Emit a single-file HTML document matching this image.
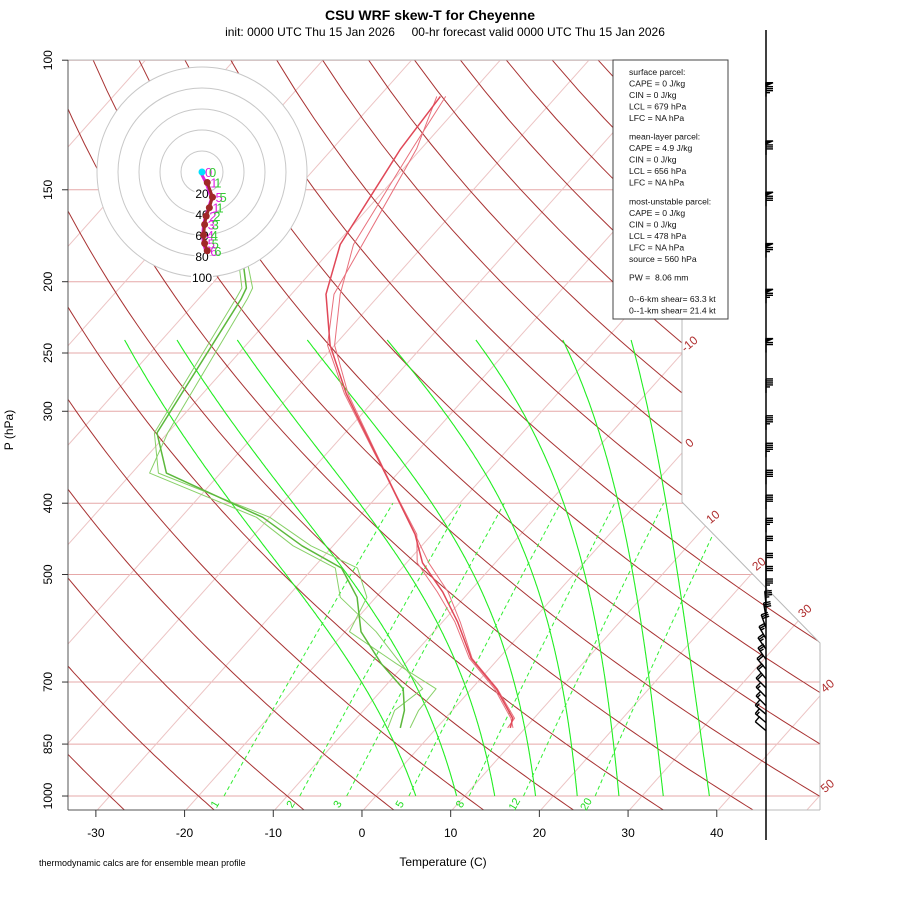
<!DOCTYPE html>
<html><head><meta charset="utf-8"><style>
html,body{margin:0;padding:0;background:#fff;}
svg{display:block;font-family:"Liberation Sans",sans-serif;}
</style></head><body>
<svg id="chart" width="900" height="900" viewBox="0 0 900 900" xmlns="http://www.w3.org/2000/svg">
<defs><clipPath id="plotclip"><polygon points="68,60 682,60 682,502 820,643 820,810 68,810"/></clipPath></defs>
<rect width="900" height="900" fill="#fff"/>
<text x="430" y="20" text-anchor="middle" font-size="14" font-weight="bold">CSU WRF skew-T for Cheyenne</text>
<text x="445" y="36" text-anchor="middle" font-size="12" xml:space="preserve" style="white-space:pre">init: 0000 UTC Thu 15 Jan 2026     00-hr forecast valid 0000 UTC Thu 15 Jan 2026</text>
<g id="bg" clip-path="url(#plotclip)"></g>
<g id="profiles" clip-path="url(#plotclip)"></g>
<polyline points="68,60 682,60 682,502 820,643 820,810" fill="none" stroke="#b8b8b8" stroke-width="1"/>
<line x1="68" y1="60" x2="68" y2="810" stroke="#555" stroke-width="1"/>
<line x1="68" y1="810" x2="717" y2="810" stroke="#555" stroke-width="1"/>
<line x1="717" y1="810" x2="820" y2="810" stroke="#bbb" stroke-width="1"/>
<g id="axes"></g>
<text transform="translate(13,430) rotate(-90)" text-anchor="middle" font-size="12">P (hPa)</text>
<text x="443" y="866" text-anchor="middle" font-size="12">Temperature (C)</text>
<text x="39" y="866" font-size="9">thermodynamic calcs are for ensemble mean profile</text>
<g id="hodo"></g>
<g>
<rect x="613" y="60" width="115" height="259" fill="#fff" stroke="#444" stroke-width="1"/>
<g font-size="8.6" fill="#111">
<text x="629" y="75">surface parcel:</text>
<text x="629" y="86.5">CAPE = 0 J/kg</text>
<text x="629" y="98">CIN = 0 J/kg</text>
<text x="629" y="109.5">LCL = 679 hPa</text>
<text x="629" y="121">LFC = NA hPa</text>
<text x="629" y="139.5">mean-layer parcel:</text>
<text x="629" y="151">CAPE = 4.9 J/kg</text>
<text x="629" y="162.5">CIN = 0 J/kg</text>
<text x="629" y="174">LCL = 656 hPa</text>
<text x="629" y="185.5">LFC = NA hPa</text>
<text x="629" y="204.5">most-unstable parcel:</text>
<text x="629" y="216">CAPE = 0 J/kg</text>
<text x="629" y="227.5">CIN = 0 J/kg</text>
<text x="629" y="239">LCL = 478 hPa</text>
<text x="629" y="250.5">LFC = NA hPa</text>
<text x="629" y="262">source = 560 hPa</text>
<text x="629" y="280.5" xml:space="preserve" style="white-space:pre">PW =  8.06 mm</text>
<text x="629" y="302">0--6-km shear= 63.3 kt</text>
<text x="629" y="313.5">0--1-km shear= 21.4 kt</text>
</g></g>
<line x1="766" y1="30" x2="766" y2="840" stroke="#000" stroke-width="1.5"/>
<g id="barbs"></g>
</svg>
<script>
// ---- data ----
const pressureTicks = [100,150,200,250,300,400,500,700,850,1000];
const tempTicks = [-30,-20,-10,0,10,20,30,40];
const isothermLabels = [-10,0,10,20,30,40,50];
const mixRatios = [1,2,3,5,8,12,20];
const moistStartT = [4.5,9.1,13.4,18.0,22.7,27.4,32.4,37.6];
const moistTopT = [-74.2,-68.3,-61.5,-53.6,-44.6,-34.6,-24.8,-17.1];
const dryThetas = [-40,-30,-20,-10,0,10,20,30,40,50,60,70,80,90,100,110,120,130,140,150,160,170,180,190,200];
const profP = [112,132,178,208,244,284,341,441,482,528,580,650,715,784,808];
const tempMean = [-63.1,-62.3,-59.5,-56.1,-50.5,-43.8,-34.7,-21.9,-18.2,-13.0,-8.3,-3.1,2.8,7.6,8.3];
const tempMemA = [-62.5,-61.0,-58.0,-54.5,-50.0,-43.6,-34.6,-21.9,-17.5,-12.4,-8.0,-3.0,2.9,7.8,8.0];
const tempMemB = [-63.5,-60.5,-57.0,-55.2,-50.8,-44.0,-34.8,-21.7,-18.8,-13.6,-8.6,-3.3,2.6,7.4,8.6];
const dewP = [189,204,211,321,364,418,457,490,537,598,661,715,765,808];
const dewMean = [-68.5,-65.7,-65.2,-61.2,-56.1,-40.8,-33.5,-26.8,-22.1,-18.2,-12.7,-7.7,-5.4,-4.1];
const dewMemA = [-68.0,-65.0,-64.5,-60.0,-58.0,-41.5,-34.5,-27.5,-24.0,-16.5,-10.5,-5.5,-6.5,-5.5];
const dewMemB = [-69.0,-66.2,-65.8,-61.5,-57.0,-40.0,-32.5,-25.0,-21.0,-19.5,-11.0,-4.0,-3.8,-3.0];
const hodoU = [0,10,20,14,8,5,3,5,10];
const hodoV = [0,-10,-24,-34,-42,-50,-60,-68,-75];
const hodoLbl = ["0","1","5","1","2","3","4","5","6"];
const barbP = [110,132,155,182,210,245,278,312,340,370,400,430,455,480,500,520,540,560,580,600,620,640,660,680,700,720,740,760,780,800];
const barbSpd = [85,80,80,75,75,70,45,45,45,40,40,35,30,30,30,35,35,30,30,25,25,25,20,20,20,15,15,15,15,10];
const barbDir = [0,0,0,0,0,0,0,0,0,0,0,0,0,0,0,0,5,10,20,30,35,35,40,40,45,45,45,50,50,50];

// ---- axis functions ----
const NS="http://www.w3.org/2000/svg";
function yv(p){return 132.182-44.061*Math.log10(p);}
function py(p){return 796-16.70*yv(p);}
function px(T,p){return 375.9+8.87*T+14.90*yv(p);}
function mk(tag,attrs,parent){const e=document.createElementNS(NS,tag);for(const k in attrs)e.setAttribute(k,attrs[k]);parent.appendChild(e);return e;}
function pts(arr){return arr.map(a=>a[0].toFixed(1)+","+a[1].toFixed(1)).join(" ");}
const bg=document.getElementById('bg'),prof=document.getElementById('profiles'),axes=document.getElementById('axes');

pressureTicks.forEach(p=>{
  const l=mk('line',{x1:68,x2:820,y1:py(p),y2:py(p),stroke:'#e6a8a8','stroke-width':1},bg);
  
  
});
for(let T=-140;T<=60;T+=10){
  const l=mk('line',{x1:px(T,1050),y1:py(1050),x2:px(T,100),y2:py(100),stroke:'#ecc4c4','stroke-width':1},bg);
  
  
}
dryThetas.forEach(th=>{
  const a=[];for(let p=1050;p>=100;p-=10){const T=(th+273.15)*Math.pow(p/1000,0.286)-273.15;a.push([px(T,p),py(p)]);}
  const l=mk('polyline',{points:pts(a),fill:'none',stroke:'#a83232','stroke-width':1},bg);
  
  
});
function es(Tc){return 6.112*Math.exp(17.67*Tc/(Tc+243.5));}
moistStartT.forEach((T0,i)=>{
  let T=T0+273.15,p=1000;const raw=[[1000,T0]];
  while(p>240){const Tc=T-273.15;const e=es(Tc);const rs=0.622*e/(p-e);
    const dTdp=(287*T+2.5e6*rs)/(p*(1005+2.5e6*2.5e6*rs*0.622/(287*T*T)));
    T-=dTdp*2;p-=2;raw.push([p,T-273.15]);}
  const corr=moistTopT[i]-raw[raw.length-1][1];
  const a=raw.map(r=>{const f=Math.log(1000/r[0])/Math.log(1000/240);return [px(r[1]+corr*f,r[0]),py(r[0])];});
  const l=mk('polyline',{points:pts(a),fill:'none',stroke:'#22ee22','stroke-width':1.1},bg);
  
  
});
mixRatios.forEach(w=>{
  const a=[];for(let p=1000;p>=400;p-=10){const e=w/1000*p/(0.622+w/1000);const lg=Math.log(e/6.112);const Td=243.5*lg/(17.67-lg);a.push([px(Td,p),py(p)]);}
  const l=mk('polyline',{points:pts(a),fill:'none',stroke:'#33ee33','stroke-width':1,'stroke-dasharray':'4,3'},bg);
  
  
  const t=mk('text',{x:0,y:0,'font-size':11,fill:'#22dd22','text-anchor':'middle',transform:'translate('+(a[0][0]-6).toFixed(1)+',806) rotate(-60)'},axes);
  t.textContent=w;
  
  
});
isothermLabels.forEach(T=>{
  let X,Y;
  for(let y=810;y>=60;y-=1){const x=375.9+8.87*T+14.90*(796-y)/16.70;
    let xr = y>=643?820:(y>=502?682+(y-502)*138/141:682);
    if(x>=xr){X=xr;Y=y;break;}}
  const t=mk('text',{x:0,y:0,'font-size':12,fill:'#b03030','text-anchor':'middle',transform:'translate('+(X+10)+','+(Y-6)+') rotate(-40)'},axes);
  t.textContent=T;
  
  
});
pressureTicks.forEach(p=>{
  mk('line',{x1:62,x2:68,y1:py(p),y2:py(p),stroke:'#333'},axes);
  const t=mk('text',{transform:'translate(52,'+py(p).toFixed(1)+') rotate(-90)','text-anchor':'middle','font-size':12},axes);
  t.textContent=p;
  
  
});
tempTicks.forEach(T=>{
  const x=px(T,1050);
  mk('line',{x1:x,x2:x,y1:810,y2:817,stroke:'#333'},axes);
  const t=mk('text',{x:x,y:837,'text-anchor':'middle','font-size':12},axes);
  t.textContent=T;
  
  
});
function line(P,Tv,col,w,name){
  const a=P.map((p,i)=>[px(Tv[i],p),py(p)]);
  const l=mk('polyline',{points:pts(a),fill:'none',stroke:col,'stroke-width':w,'stroke-linejoin':'round'},prof);
  
  
}
line(profP,tempMemA,'#e8707c',1,'temperature-member');
line(profP,tempMemB,'#e8707c',1,'temperature-member');
line(profP,tempMean,'#e04858',1.5,'temperature-mean');
line(dewP,dewMemA,'#88d068',1,'dewpoint-member');
line(dewP,dewMemB,'#88d068',1,'dewpoint-member');
line(dewP,dewMean,'#5cb83c',1.5,'dewpoint-mean');

const hodo=document.getElementById('hodo');
const hc=[202,172],hs=1.05;
for(let r=100;r>=20;r-=20){
  const c=mk('circle',{cx:hc[0],cy:hc[1],r:r*hs,fill:r==100?'#fff':'none',stroke:'#c8c8c8','stroke-width':1},hodo);
  
  
}
for(let r=20;r<=100;r+=20){
  const w=r==100?22:15;
  mk('rect',{x:hc[0]-w/2,y:hc[1]+r*hs-7,width:w,height:13,fill:'#fff'},hodo);
  const t=mk('text',{x:hc[0],y:hc[1]+r*hs+5,'text-anchor':'middle','font-size':12},hodo);
  t.textContent=r;
  
  
}
const hp=hodoU.map((u,i)=>[hc[0]+u*hs*0.5,hc[1]+(-hodoV[i])*hs]);
mk('polyline',{points:pts(hp.map(a=>[a[0]-1,a[1]+1])),fill:'none',stroke:'#e020e0','stroke-width':3},hodo);
mk('polyline',{points:pts(hp.slice(1)),fill:'none',stroke:'#a02828','stroke-width':3},hodo);
hp.forEach((a,i)=>{
  if(i>0){const d=mk('circle',{cx:a[0],cy:a[1],r:3.5,fill:'#a02828'},hodo);
  
  }
  const t=mk('text',{x:a[0]+3,y:a[1]+5,'font-size':13,fill:'#e020e0'},hodo);t.textContent=hodoLbl[i];
  const t2=mk('text',{x:a[0]+7,y:a[1]+5,'font-size':13,fill:'#33cc33'},hodo);t2.textContent=hodoLbl[i];
});
mk('circle',{cx:hc[0],cy:hc[1],r:3.5,fill:'#00e0ff'},hodo);

const bg2=document.getElementById('barbs');
barbP.forEach((p,i)=>{
  const y=py(p)+6,x=766,a=barbDir[i]*Math.PI/180,L=14;
  const dx=-Math.sin(a),dy=-Math.cos(a);
  const ex=x+dx*L,ey=y+dy*L;
  const g=mk('g',{stroke:'#000','stroke-width':1.4,fill:'none'},bg2);
  
  
  mk('line',{x1:x,y1:y,x2:ex,y2:ey},g);
  let s=barbSpd[i],k=0;const nx=-dy,ny=dx;
  while(s>=50){const bx=ex-dx*k*2,by=ey-dy*k*2;mk('polygon',{points:pts([[bx,by],[bx+nx*7,by+ny*7],[bx-dx*3,by-dy*3]]),fill:'#000'},g);k+=2;s-=50;}
  while(s>=10){const bx=ex-dx*k*2,by=ey-dy*k*2;mk('line',{x1:bx,y1:by,x2:bx+nx*7,y2:by+ny*7},g);k++;s-=10;}
  if(s>=5){const bx=ex-dx*k*2,by=ey-dy*k*2;mk('line',{x1:bx,y1:by,x2:bx+nx*4,y2:by+ny*4},g);}
});
</script>
</body></html>
